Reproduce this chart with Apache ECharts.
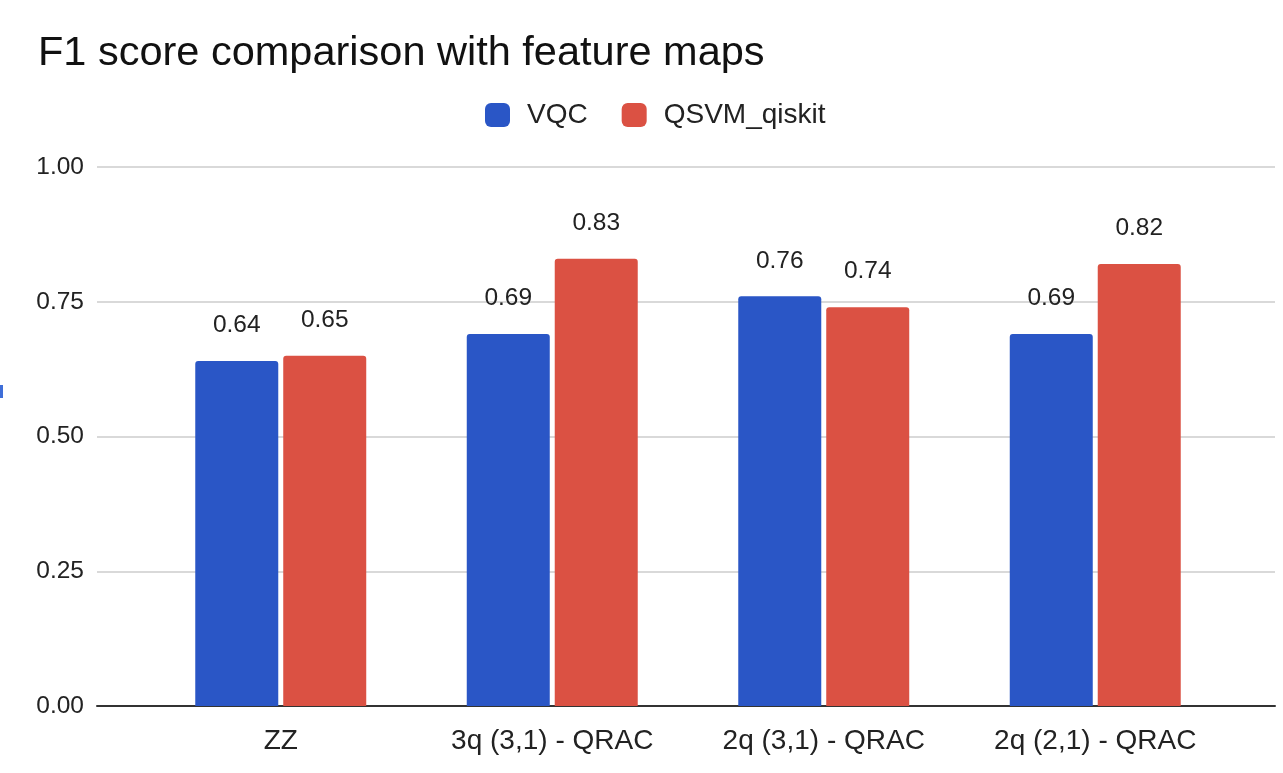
<!DOCTYPE html>
<html>
<head>
<meta charset="utf-8">
<script src="https://cdn.jsdelivr.net/npm/echarts@6/dist/echarts.min.js"></script>
<style>
  html, body { margin: 0; padding: 0; background: #fff; }
  #main { width: 1283px; height: 773px; }
</style>
</head>
<body>
<div id="main"></div>
<script>
var categories = ['ZZ', '3q (3,1) - QRAC', '2q (3,1) - QRAC', '2q (2,1) - QRAC'];
var vqc = [0.64, 0.69, 0.76, 0.69];
var qsvm = [0.65, 0.83, 0.74, 0.82];
var yTicks = [0, 0.25, 0.5, 0.75, 1];

var dom = document.getElementById('main');
var myChart = echarts.init(dom);
var font = 'Liberation Sans, Arial, sans-serif';

function barLabel() {
    return {
        show: true,
        position: 'top',
        distance: 23,
        fontSize: 24.5,
        fontFamily: font,
        color: '#222',
        formatter: function (p) { return p.value.toFixed(2); }
    };
}

var option = {
    backgroundColor: '#fff',
    animation: false,
    title: {
        text: 'F1 score comparison with feature maps',
        left: 33,
        top: 28,
        textStyle: { fontSize: 41.5, fontWeight: 'normal', color: '#111', fontFamily: font }
    },
    legend: {
        top: 96,
        left: 480,
        itemWidth: 25,
        itemHeight: 24,
        itemGap: 34,
        icon: 'roundRect',
        textStyle: { fontSize: 28, color: '#222', fontFamily: font, padding: [0, 0, 0, 12] },
        data: ['VQC', 'QSVM_qiskit']
    },
    // outer grid: gridlines and base line, inner grid: the category bands
    grid: [
        { left: 97, right: 8, top: 167, bottom: 67 },
        { left: 145, right: 52, top: 167, bottom: 67 }
    ],
    xAxis: [
        {
            gridIndex: 0, type: 'value', min: 0, max: 1,
            axisLine: { show: true, lineStyle: { color: '#333', width: 2 } },
            axisTick: { show: false }, axisLabel: { show: false }, splitLine: { show: false }
        },
        {
            gridIndex: 1, type: 'category', data: categories,
            axisLine: { show: false }, axisTick: { show: false },
            axisLabel: { fontSize: 28, color: '#222', margin: 21, fontFamily: font }
        }
    ],
    yAxis: [
        {
            gridIndex: 0, type: 'value', min: yTicks[0], max: yTicks[yTicks.length - 1], interval: 0.25,
            axisLine: { show: false }, axisTick: { show: false },
            axisLabel: {
                fontSize: 24.5, color: '#222', margin: 13, fontFamily: font,
                formatter: function (v) { return v.toFixed(2); }
            },
            splitLine: { lineStyle: { color: '#cccccc', width: 1.5 } }
        },
        { gridIndex: 1, type: 'value', min: 0, max: 1, show: false }
    ],
    series: [
        {
            name: 'VQC', type: 'bar', xAxisIndex: 1, yAxisIndex: 1,
            barWidth: 83, barGap: '6%',
            itemStyle: { color: '#2a56c6', borderRadius: [3, 3, 0, 0] },
            label: barLabel(),
            data: vqc
        },
        {
            name: 'QSVM_qiskit', type: 'bar', xAxisIndex: 1, yAxisIndex: 1,
            barWidth: 83, barGap: '6%',
            itemStyle: { color: '#db5143', borderRadius: [3, 3, 0, 0] },
            label: barLabel(),
            data: qsvm
        }
    ],
    graphic: [
        { type: 'rect', left: 0, top: 385, shape: { width: 3, height: 13 }, style: { fill: '#3f6ed8' } }
    ]
};

myChart.setOption(option);
</script>
</body>
</html>
